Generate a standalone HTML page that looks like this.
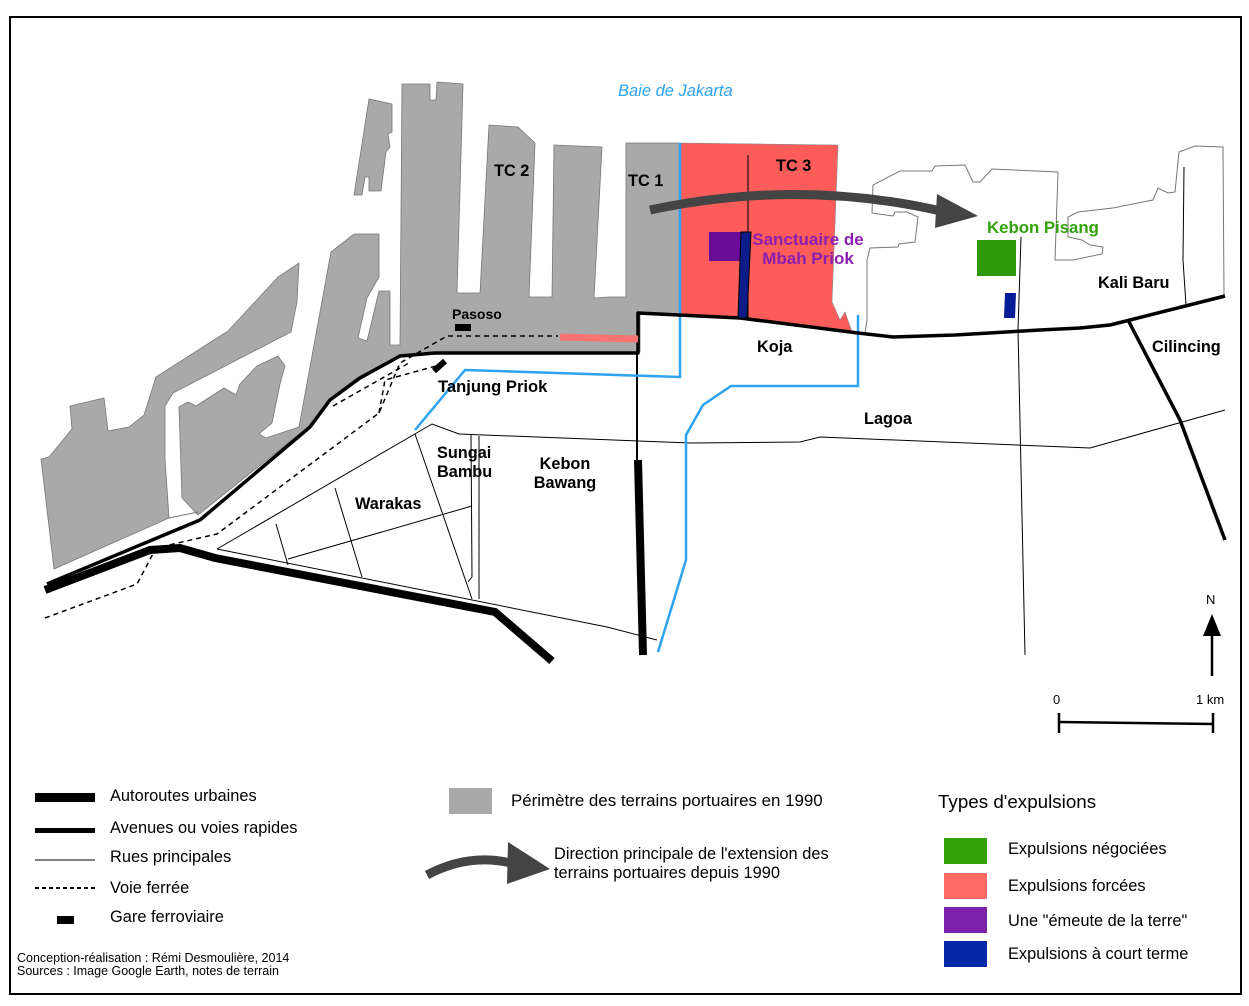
<!DOCTYPE html>
<html><head><meta charset="utf-8"><style>
html,body{margin:0;padding:0;background:#fff}
svg{display:block}
text{font-family:"Liberation Sans",Arial,sans-serif}
.b{font-weight:bold;font-size:16.3px;fill:#000}
.l{font-size:16.4px;fill:#000}
</style></head><body>
<svg width="1249" height="1006" viewBox="0 0 1249 1006" xmlns="http://www.w3.org/2000/svg">
<rect x="10" y="17" width="1231" height="977" fill="#fff" stroke="#000" stroke-width="2"/>
<g fill="#a9a9a9" stroke="#777" stroke-width="0.8">
<polygon points="54,569 41,459 49,457 72,429 70,406 104,398 108,431 129,427 144,415 156,377 228,331 278,277 299,263 297,302 291,332 173,393 165,406 165,459 169,518"/>
<polygon points="179,407 188,402 196,406 224,388 236,395 240,384 257,366 278,356 285,366 280,384 272,423 259,434 266,438 299,427 331,252 354,234 379,234 379,277 367,298 358,338 367,341 379,291 390,291 390,345 400,345 402,84 430,84 430,100 436,100 437,82 463,84 457,293 480,293 489,125 518,127 535,143 529,297 552,297 554,145 602,147 594,298 609,297 626,297 626,143 680,143 680,314 640,312 640,352 434,352 400,356 358,377 329,399 308,427 198,515 182,498"/>
<polygon points="354,195 369,99 392,104 392,132 388,134 390,147 386,152 381,191 369,191 369,177 365,177 362,195"/>
</g>
<polygon points="680,143 838,145 832,302 840,320 845,312 852,332 790,323 740,318 680,314" fill="#fc5c5a" stroke="#888" stroke-width="0.6"/>
<g fill="none" stroke="#777" stroke-width="1">
<polyline points="865,333 867,320 867,260 870,248 898,247 899,244 915,242 918,217 907,212 895,212 893,216 872,213 873,185 900,171 932,171 935,166 965,165 973,182 980,182 992,169 1058,172 1055,260 1073,260 1102,254 1103,247 1090,245 1082,240 1068,237 1068,217 1078,212 1113,208 1153,200 1158,188 1168,193 1175,192 1179,152 1195,146 1223,147 1224,295"/>
<polyline points="169,518 198,512"/>
</g>
<g fill="none" stroke="#000" stroke-width="1">
<polyline points="217,549 432,424 459,434 691,443 800,442 820,437 1090,448 1225,410"/>
<polyline points="415,434 472,599"/>
<polyline points="471,434 472,577 468,582"/>
<polyline points="479,436 479,599"/>
<polyline points="276,524 288,565"/>
<polyline points="335,488 362,577"/>
<polyline points="288,559 472,506"/>
<polyline points="217,549 607,627 657,640"/>
<polyline points="748,155 748,318"/>
<polyline points="1021,237 1018,330 1025,655"/>
<polyline points="1184,167 1183,260 1186,305"/>
<polyline points="637,353 637,460" stroke-width="2"/>
</g>
<g fill="none" stroke="#2ea3f2" stroke-width="2.5">
<polyline points="680,143 680,377 465,370 415,430"/>
<polyline points="858,315 858,386 731,386 703,405 686,435 686,560 658,652"/>
</g>
<g fill="none" stroke="#000" stroke-width="1.5" stroke-dasharray="5,4">
<polyline points="45,618 137,584 156,548 217,534 379,413 400,363 447,336 558,336"/>
<polyline points="333,406 409,363"/>
<polyline points="379,413 385,380 436,366"/>
</g>
<g fill="none" stroke="#000" stroke-width="3.5" stroke-linejoin="round">
<polyline points="47,584 200,520 310,427 330,400 360,378 400,356 435,353 638,353 638,313 740,318 858,333 893,337 955,335 1040,330 1080,328 1110,325 1130,320 1225,296"/>
<polyline points="1128,320 1180,420 1225,540"/>
</g>
<g fill="none" stroke="#000" stroke-width="8">
<polyline points="45,590 150,550 180,548 215,558 495,612 552,661"/>
<polyline points="638,460 643,655"/>
<polyline points="434,371 445,361" stroke-width="6"/>
</g>
<line x1="560" y1="337" x2="638" y2="339" stroke="#fa7373" stroke-width="7"/>
<rect x="455" y="324" width="16" height="7" fill="#000"/>
<rect x="709" y="232" width="35" height="29" fill="#6a0a96"/>
<polygon points="741,232 751,232 747,318 738,318" fill="#0c1d8a" stroke="#000" stroke-width="1"/>
<rect x="977" y="240" width="39" height="36" fill="#2e9a0a"/>
<polygon points="1005,293 1016,293 1015,318 1004,318" fill="#061b98"/>
<path d="M650,210 Q800,178 945,212" fill="none" stroke="#444" stroke-width="9"/>
<polygon points="937,194 978,216 935,228" fill="#444"/>
<text x="618" y="96" font-size="16.5" font-style="italic" fill="#2ea3f2">Baie de Jakarta</text>
<text x="494" y="176" class="b">TC 2</text>
<text x="628" y="186" class="b">TC 1</text>
<text x="776" y="171" class="b">TC 3</text>
<text x="808" y="245" class="b" text-anchor="middle" style="fill:#8a1fb0;font-size:17px">Sanctuaire de</text>
<text x="808" y="264" class="b" text-anchor="middle" style="fill:#8a1fb0;font-size:17px">Mbah Priok</text>
<text x="987" y="233" class="b" style="fill:#33a10c;font-size:16.8px">Kebon Pisang</text>
<text x="1098" y="288" class="b">Kali Baru</text>
<text x="1152" y="352" class="b">Cilincing</text>
<text x="757" y="352" class="b">Koja</text>
<text x="864" y="424" class="b">Lagoa</text>
<text x="452" y="319" font-size="14" font-weight="bold">Pasoso</text>
<text x="438" y="392" class="b" style="font-size:16.6px">Tanjung Priok</text>
<text x="437" y="458" class="b">Sungai</text>
<text x="437" y="477" class="b">Bambu</text>
<text x="565" y="469" class="b" text-anchor="middle">Kebon</text>
<text x="565" y="488" class="b" text-anchor="middle">Bawang</text>
<text x="355" y="509" class="b">Warakas</text>
<text x="1206" y="604" font-size="13">N</text>
<line x1="1212" y1="676" x2="1212" y2="630" stroke="#000" stroke-width="2.5"/>
<polygon points="1212,614 1203,636 1221,636" fill="#000"/>
<text x="1053" y="704" font-size="13">0</text>
<text x="1196" y="704" font-size="13">1 km</text>
<line x1="1059" y1="722" x2="1213" y2="724" stroke="#000" stroke-width="2.5"/>
<line x1="1059" y1="713" x2="1059" y2="733" stroke="#000" stroke-width="2.5"/>
<line x1="1213" y1="713" x2="1213" y2="733" stroke="#000" stroke-width="2.5"/>
<rect x="35" y="793" width="60" height="9" fill="#000"/>
<text x="110" y="801" class="l">Autoroutes urbaines</text>
<rect x="35" y="828" width="60" height="5" fill="#000"/>
<text x="110" y="833" class="l">Avenues ou voies rapides</text>
<line x1="35" y1="860" x2="95" y2="860" stroke="#000" stroke-width="1"/>
<text x="110" y="862" class="l">Rues principales</text>
<line x1="35" y1="888" x2="95" y2="888" stroke="#000" stroke-width="2" stroke-dasharray="4,3"/>
<text x="110" y="893" class="l">Voie ferrée</text>
<rect x="57" y="916" width="17" height="8" fill="#000"/>
<text x="110" y="922" class="l">Gare ferroviaire</text>
<text x="17" y="962" font-size="12.5">Conception-réalisation : Rémi Desmoulière, 2014</text>
<text x="17" y="975" font-size="12.5">Sources : Image Google Earth, notes de terrain</text>
<rect x="449" y="788" width="43" height="26" fill="#a9a9a9"/>
<text x="511" y="806" class="l" style="font-size:16.9px">Périmètre des terrains portuaires en 1990</text>
<path d="M427,875 Q470,852 515,864" fill="none" stroke="#444" stroke-width="9"/>
<polygon points="508,842 550,869 507,884" fill="#444"/>
<text x="554" y="859" class="l">Direction principale de l'extension des</text>
<text x="554" y="878" class="l">terrains portuaires depuis 1990</text>
<text x="938" y="808" font-size="18.8">Types d'expulsions</text>
<rect x="944" y="838" width="43" height="26" fill="#33a00a"/>
<text x="1008" y="854" class="l">Expulsions négociées</text>
<rect x="944" y="873" width="43" height="26" fill="#ff6b66"/>
<text x="1008" y="891" class="l">Expulsions forcées</text>
<rect x="944" y="907" width="43" height="26" fill="#7b22a8"/>
<text x="1008" y="926" class="l">Une "émeute de la terre"</text>
<rect x="944" y="941" width="43" height="26" fill="#0528a8"/>
<text x="1008" y="959" class="l">Expulsions à court terme</text>
</svg>
</body></html>
